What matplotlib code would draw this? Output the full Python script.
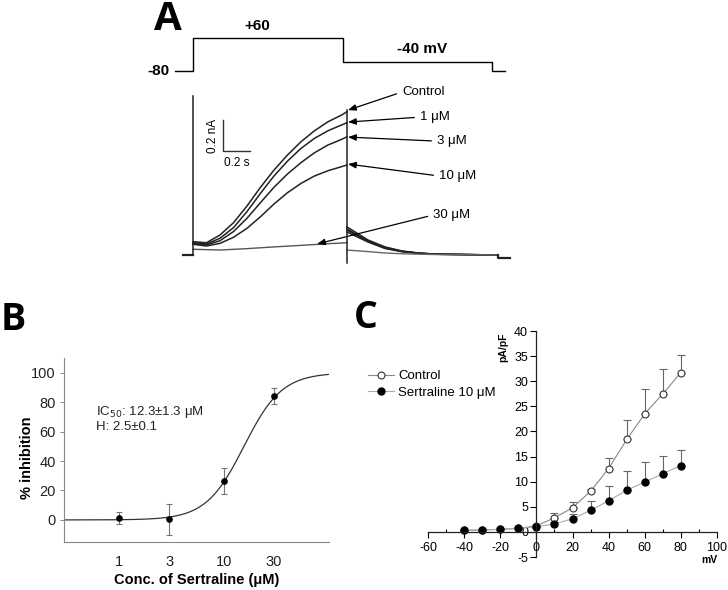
import matplotlib
matplotlib.use("Agg")
import matplotlib.pyplot as plt
import numpy as np
from matplotlib.lines import Line2D
from matplotlib.ticker import MultipleLocator, FixedLocator, NullLocator

plt.rcParams['font.family'] = ['Liberation Sans', 'DejaVu Sans']
plt.rcParams['axes.unicode_minus'] = False

# ---- panel A: voltage protocol (s, mV)
protocol_t = [-0.133, 0.0, 1.111, 2.215, 2.311]
protocol_mv = [-80, 60, -40, -80, -80]

# ---- panel A: current traces (s, nA) read from the recording
act_t = [0.0, 0.1, 0.2, 0.3, 0.4, 0.5, 0.6, 0.7, 0.8, 0.9, 1.0, 1.1, 1.141]
act_ctrl = [0.086, 0.079, 0.129, 0.208, 0.316, 0.437, 0.548, 0.645, 0.731, 0.802, 0.860, 0.903, 0.925]
act_1 = [0.079, 0.071, 0.108, 0.176, 0.280, 0.398, 0.510, 0.606, 0.688, 0.753, 0.802, 0.839, 0.854]
act_3 = [0.075, 0.065, 0.092, 0.151, 0.237, 0.338, 0.437, 0.523, 0.596, 0.660, 0.710, 0.746, 0.763]
act_10 = [0.069, 0.058, 0.075, 0.114, 0.172, 0.247, 0.329, 0.402, 0.462, 0.510, 0.544, 0.570, 0.581]
act_30_t = [0.0, 0.2, 0.4, 0.6, 0.8, 1.0, 1.141]
act_30 = [0.037, 0.032, 0.041, 0.052, 0.062, 0.073, 0.079]

tail_t = [1.141, 1.296, 1.422, 1.548, 1.667, 1.793, 2.259]
tail_ctrl = [0.181, 0.097, 0.052, 0.026, 0.013, 0.006, 0.0]
tail_1 = [0.168, 0.090, 0.048, 0.024, 0.012, 0.005, 0.0]
tail_3 = [0.161, 0.087, 0.045, 0.023, 0.012, 0.005, 0.0]
tail_10 = [0.148, 0.084, 0.042, 0.021, 0.012, 0.005, 0.0]
tail_30 = [0.032, 0.022, 0.013, 0.008, 0.005, 0.003, 0.0]

trace_labels = ['Control', '1 \u03bcM', '3 \u03bcM', '10 \u03bcM', '30 \u03bcM']

# ---- panel B: concentration-response
conc = [1, 3, 10, 30]
inhibition = [1.5, 0.5, 26.5, 84.0]
inhibition_err = [4.0, 10.5, 9.0, 5.5]
curve_ic50 = 15.5
curve_hill = 2.4

# ---- panel C: I-V relation
volt = [-40, -30, -20, -10, 0, 10, 20, 30, 40, 50, 60, 70, 80]
ctrl = [0.3, 0.4, 0.5, 0.7, 1.2, 2.8, 4.8, 8.1, 12.6, 18.4, 23.5, 27.5, 31.7]
ctrl_err = [0.1, 0.1, 0.1, 0.1, 0.2, 1.0, 1.1, 0.4, 2.2, 3.8, 5.0, 5.0, 3.6]
sert = [0.3, 0.4, 0.5, 0.7, 1.0, 1.6, 2.6, 4.3, 6.2, 8.3, 9.9, 11.6, 13.2]
sert_err = [0.1, 0.1, 0.1, 0.1, 0.1, 0.3, 0.9, 1.8, 2.9, 3.8, 4.0, 3.5, 3.1]

W, H = 728, 590
fig = plt.figure(figsize=(W / 100, H / 100), dpi=100)


def box(x0, y0, x1, y1):
    # pixel box (top-left origin) -> figure fraction rect
    return [x0 / W, 1 - y1 / H, (x1 - x0) / W, (y1 - y0) / H]


dark = '#222222'
heavy = ['Open Sans', 'DejaVu Sans']

# ================= A =================
xlim_a = (-0.170, 2.422)
ax_p = fig.add_axes(box(170, 30, 520, 80))
ax_p.set_axis_off()
ax_p.set_xlim(*xlim_a)
ax_p.set_ylim(-118.2, 93.9)
ax_p.plot(protocol_t, protocol_mv, drawstyle='steps-post', color='black', lw=1.0)
ax_p.text(-0.175, -80, '-80', ha='right', va='center', fontsize=11, fontweight='bold')
ax_p.text(0.474, 111, '+60', ha='center', va='center', fontsize=11, fontweight='bold', clip_on=False)
ax_p.text(1.696, 13, '-40 mV', ha='center', va='center', fontsize=11, fontweight='bold')

ax_a = fig.add_axes(box(170, 90, 520, 268))
ax_a.set_axis_off()
ax_a.set_xlim(*xlim_a)
ax_a.set_ylim(-0.084, 1.065)

for a, tl in [(act_ctrl, tail_ctrl), (act_1, tail_1), (act_3, tail_3), (act_10, tail_10)]:
    ax_a.plot(act_t, a, color=dark, lw=1.1)
    ax_a.plot(tail_t, tl, color=dark, lw=1.1)
ax_a.plot(act_30_t, act_30, color='#555555', lw=1.0)
ax_a.plot(tail_t, tail_30, color='#666666', lw=1.0)
# holding baseline and capacitive edges
ax_a.plot([-0.074, 0.0], [0.0, 0.0], color=dark, lw=1.6)
ax_a.plot([2.259, 2.259, 2.35], [0.0, -0.02, -0.02], color=dark, lw=1.6)
ax_a.plot([0.0, 0.0], [0.0, 1.026], color=dark, lw=1.1)
ax_a.plot([1.141, 1.141], [-0.052, 0.935], color=dark, lw=1.1)

# scale bar
sb_t, sb_i = 0.2, 0.2
sb_x0, sb_y0 = 0.222, 0.671
ax_a.plot([sb_x0, sb_x0, sb_x0 + sb_t], [sb_y0 + sb_i, sb_y0, sb_y0], color='#333333', lw=1.0)
ax_a.text(sb_x0 - 0.07, sb_y0 + sb_i / 2, '0.2 nA', rotation=90, ha='center', va='center', fontsize=8.5)
ax_a.text(sb_x0 + sb_t / 2 + 0.005, sb_y0 - 0.075, '0.2 s', ha='center', va='center', fontsize=8.5)

label_pos = [(1.548, 1.052), (1.681, 0.890), (1.807, 0.735), (1.822, 0.510), (1.778, 0.258)]
arrow_tip = [(1.148, 0.935), (1.148, 0.858), (1.148, 0.761), (1.148, 0.587), (0.919, 0.071)]
for lab, (tx, ty), (px, py) in zip(trace_labels, label_pos, arrow_tip):
    ax_a.annotate(lab, xy=(px, py), xytext=(tx, ty), ha='left', va='center', fontsize=9.5,
                  arrowprops=dict(arrowstyle='-|>,head_length=0.5,head_width=0.2', color='black',
                                  lw=0.9, relpos=(0, 0.5), shrinkA=2, shrinkB=0))

fig.text(168 / W, 1 - 19 / H, 'A', ha='center', va='center', fontsize=29,
         fontweight='bold', family=heavy)

# ================= B =================
ax_b = fig.add_axes(box(64, 358, 329, 542))
xs = np.logspace(np.log10(0.3), 2, 300)
ax_b.plot(xs, 100 / (1 + (curve_ic50 / xs) ** curve_hill), color='#333333', lw=0.9)
ax_b.errorbar(conc, inhibition, yerr=inhibition_err, fmt='o', color='black', ms=3.8,
              ecolor='#777777', elinewidth=0.8, capsize=2.5, capthick=0.8)
ax_b.set_xscale('log')
ax_b.set_xlim(0.3, 100)
ax_b.set_ylim(-15, 110)
ax_b.xaxis.set_major_locator(FixedLocator(conc))
ax_b.xaxis.set_minor_locator(NullLocator())
ax_b.set_xticklabels([str(c) for c in conc])
ax_b.yaxis.set_major_locator(FixedLocator([0, 20, 40, 60, 80, 100]))
ax_b.tick_params(axis='x', length=0, pad=9, labelsize=10.5, colors='#222222')
ax_b.tick_params(axis='y', length=3, width=0.7, color='#888888', pad=3, labelsize=10.5,
                 labelcolor='#222222')
for s in ['top', 'right']:
    ax_b.spines[s].set_visible(False)
for s in ['left', 'bottom']:
    ax_b.spines[s].set_color('#888888')
    ax_b.spines[s].set_linewidth(0.8)
ax_b.set_xlabel('Conc. of Sertraline (\u03bcM)', fontsize=10.5, fontweight='bold', labelpad=3)
ax_b.set_ylabel('% inhibition', fontsize=10.5, fontweight='bold')
ax_b.yaxis.set_label_coords(-0.115, 0.46)
ax_b.text(0.6, 73.5, 'IC$_{50}$: 12.3\u00b11.3 \u03bcM', fontsize=9.5, va='center', color='#222222')
ax_b.text(0.6, 63, 'H: 2.5\u00b10.1', fontsize=9.5, va='center', color='#222222')

fig.text(13 / W, 1 - 320 / H, 'B', ha='center', va='center', fontsize=27,
         fontweight='bold', family=heavy)

# ================= C =================
ax_c = fig.add_axes(box(428, 331, 717, 557))
ax_c.set_xlim(-60, 100)
ax_c.set_ylim(-5, 40)
zeros = [0] * len(volt)
ctrl_style = dict(color='#888888', lw=0.8, marker='o', mfc='white', mec='#333333', mew=0.8, ms=5)
sert_style = dict(color='#aaaaaa', lw=0.8, marker='o', mfc='black', mec='black', ms=5)
ax_c.errorbar(volt, ctrl, yerr=[zeros, ctrl_err], ecolor='#666666',
              elinewidth=0.8, capsize=3, capthick=0.8, **ctrl_style)
ax_c.errorbar(volt, sert, yerr=[zeros, sert_err], ecolor='#666666',
              elinewidth=0.8, capsize=3, capthick=0.8, **sert_style)
for s in ['top', 'right']:
    ax_c.spines[s].set_visible(False)
ax_c.spines['left'].set_position(('data', 0))
ax_c.spines['bottom'].set_position(('data', 0))
for s in ['left', 'bottom']:
    ax_c.spines[s].set_linewidth(0.9)
    ax_c.spines[s].set_color('#222222')
ax_c.xaxis.set_major_locator(MultipleLocator(20))
ax_c.xaxis.set_minor_locator(MultipleLocator(10))
ax_c.yaxis.set_major_locator(MultipleLocator(5))
ax_c.tick_params(axis='x', which='major', direction='out', length=4, width=0.8, labelsize=9, pad=3)
ax_c.tick_params(axis='x', which='minor', direction='in', length=2.5, width=0.8)
ax_c.tick_params(axis='y', which='major', direction='out', length=4, width=0.8, labelsize=9, pad=2)
ax_c.text(-18.5, 36.8, 'pA/pF', rotation=90, ha='center', va='center', fontsize=7.5, fontweight='bold')
ax_c.text(96, -5.6, 'mV', ha='center', va='center', fontsize=7.5, fontweight='bold')

handles = [Line2D([], [], label='Control', **ctrl_style),
           Line2D([], [], label='Sertraline 10 \u03bcM', **sert_style)]
fig.legend(handles=handles, loc='upper left', bbox_to_anchor=(368 / W, 1 - 370 / H),
           frameon=False, fontsize=9.5, handlelength=2.0, handletextpad=0.3,
           labelspacing=0.35, borderaxespad=0, borderpad=0)

fig.text(366 / W, 1 - 318 / H, 'C', ha='center', va='center', fontsize=27,
         fontweight='bold', family=heavy)

fig.savefig('out.png', dpi=100)
